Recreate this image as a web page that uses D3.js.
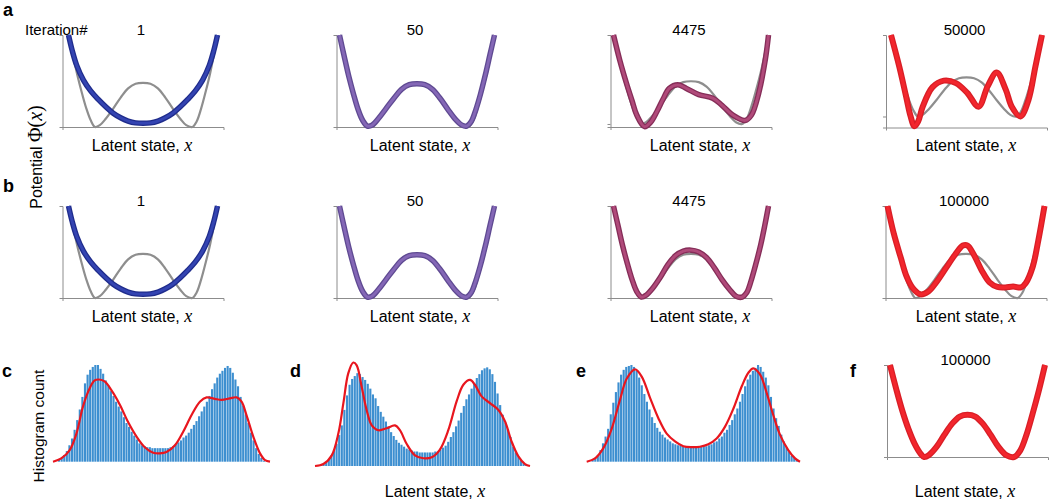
<!DOCTYPE html>
<html>
<head>
<meta charset="utf-8">
<script src="https://cdn.jsdelivr.net/npm/d3@7"></script>
<style>
  body { margin: 0; background: #fff; }
  svg { display: block; font-family: "Liberation Sans", Arial, Helvetica, sans-serif; }
</style>
</head>
<body>
<svg id="chart" width="1050" height="500"></svg>
<script>
// ---- data ----
// potentials: [latent x (0..1 across panel), potential (0 = true minimum, 1 = top of axis)]
var truePotential = [[0,1],[0.03,0.78],[0.06,0.56],[0.09,0.37],[0.12,0.2],[0.15,0.07],[0.178,0],[0.21,0.02],[0.25,0.09],[0.3,0.2],[0.35,0.32],[0.4,0.42],[0.45,0.47],[0.5,0.48],[0.55,0.47],[0.6,0.42],[0.65,0.32],[0.7,0.2],[0.75,0.09],[0.79,0.02],[0.83,0],[0.86,0.06],[0.89,0.2],[0.92,0.38],[0.95,0.58],[0.975,0.78],[1,1]]
var iter1 = [[0,1],[0.025,0.83],[0.055,0.67],[0.1,0.51],[0.15,0.39],[0.2,0.3],[0.25,0.22],[0.3,0.15],[0.35,0.1],[0.4,0.065],[0.45,0.045],[0.5,0.04],[0.55,0.045],[0.6,0.065],[0.65,0.1],[0.7,0.15],[0.75,0.22],[0.8,0.3],[0.85,0.39],[0.9,0.51],[0.945,0.67],[0.975,0.83],[1,1]]
var iter50 = [[0,1],[0.03,0.77],[0.06,0.55],[0.09,0.36],[0.12,0.19],[0.15,0.07],[0.18,0.01],[0.21,0.02],[0.25,0.09],[0.3,0.2],[0.35,0.31],[0.4,0.41],[0.45,0.46],[0.5,0.47],[0.55,0.46],[0.6,0.41],[0.65,0.31],[0.7,0.19],[0.75,0.08],[0.79,0.02],[0.82,0.01],[0.85,0.06],[0.88,0.19],[0.91,0.36],[0.94,0.56],[0.97,0.78],[1,1]]
var iter4475a = [[0,1],[0.04,0.72],[0.085,0.45],[0.12,0.26],[0.15,0.1],[0.2,-0.03],[0.24,0.02],[0.28,0.14],[0.32,0.28],[0.36,0.4],[0.415,0.44],[0.47,0.4],[0.55,0.33],[0.64,0.29],[0.7,0.21],[0.77,0.1],[0.85,0.04],[0.89,0.1],[0.936,0.34],[0.98,0.73],[1,1]]
var iter50000 = [[0,1],[0.055,0.61],[0.1,0.245],[0.13,0],[0.155,-0.12],[0.18,-0.06],[0.21,0.12],[0.275,0.36],[0.35,0.44],[0.43,0.41],[0.505,0.29],[0.58,0.12],[0.64,0.37],[0.7,0.54],[0.76,0.33],[0.8,0.12],[0.857,0],[0.91,0.2],[0.956,0.61],[1,1]]
var iter4475b = [[0,1],[0.03,0.78],[0.06,0.56],[0.09,0.37],[0.12,0.2],[0.15,0.07],[0.18,0.01],[0.21,0.03],[0.25,0.1],[0.3,0.22],[0.35,0.36],[0.4,0.46],[0.45,0.51],[0.5,0.52],[0.55,0.5],[0.6,0.44],[0.65,0.33],[0.7,0.2],[0.75,0.09],[0.79,0.02],[0.83,0.01],[0.86,0.06],[0.89,0.2],[0.92,0.38],[0.95,0.58],[0.975,0.78],[1,1]]
var iter100000 = [[0,1],[0.04,0.7],[0.086,0.43],[0.12,0.24],[0.16,0.11],[0.21,0.04],[0.26,0.07],[0.31,0.17],[0.37,0.32],[0.43,0.47],[0.48,0.57],[0.51,0.57],[0.55,0.47],[0.6,0.3],[0.65,0.17],[0.7,0.12],[0.75,0.115],[0.8,0.125],[0.85,0.115],[0.88,0.16],[0.925,0.34],[0.96,0.62],[1,1]]
var learnedF = [[0,1],[0.04,0.74],[0.08,0.5],[0.12,0.3],[0.16,0.14],[0.2,0.03],[0.22,0],[0.25,0.02],[0.3,0.11],[0.35,0.24],[0.4,0.36],[0.45,0.44],[0.5,0.46],[0.55,0.44],[0.6,0.36],[0.65,0.24],[0.7,0.11],[0.75,0.02],[0.8,0],[0.84,0.07],[0.88,0.24],[0.92,0.47],[0.96,0.72],[1,1]]

// histograms: 80 bins each, counts scaled so the tallest peak is ~100
var histC = [2,4,7,11,17,24,33,43,54,67, 81,90,95,98,100,100,96,91,84,79, 73,68,62,57,52,46,40,36,31,27, 23,19,17,16,15,15,14,14,14,14, 14,14,14,15,16,18,20,22,25,27, 30,34,38,42,47,52,57,62,68,75, 81,87,91,94,97,99,97,92,85,78, 67,58,49,40,30,22,14,8,4,1]
var histD = [1,2,4,7,11,16,23,32,42,58, 73,84,90,93,96,95,92,89,85,80, 74,70,62,56,51,46,41,35,31,27, 24,22,20,18,17,16,15,15,14,14, 14,14,14,14,15,15,17,19,21,25, 30,35,41,47,55,62,69,74,80,86, 91,95,99,101,102,100,95,87,75,63, 53,45,38,30,20,14,10,6,3,1]
var histE = [2,4,7,12,19,26,34,49,61,72, 82,90,95,98,99,100,98,94,87,79, 70,62,54,46,40,35,31,28,25,23, 21,19,18,17,17,16,16,15,15,15, 15,15,16,16,16,17,18,20,21,24, 26,30,33,38,43,49,55,62,70,78, 85,90,94,97,100,98,93,87,79,67, 55,45,37,28,21,15,10,6,4,2]
// fitted densities (red) on the same count scale
var fitC = [[0,0],[0.038,3.4],[0.077,12],[0.108,29],[0.138,57],[0.169,76],[0.192,84],[0.212,85],[0.238,83],[0.269,74],[0.308,59],[0.346,41],[0.385,26],[0.423,15],[0.462,9.3],[0.492,8.6],[0.523,10],[0.562,17],[0.6,31],[0.638,48],[0.677,62],[0.708,66.5],[0.746,65],[0.777,64],[0.815,65.5],[0.846,66.5],[0.869,62],[0.892,48],[0.923,26],[0.954,8.6],[0.977,1.7],[1,0]]
var fitD = [[0,0],[0.039,2],[0.078,11],[0.109,34],[0.132,65],[0.155,96],[0.178,107],[0.194,104],[0.217,82],[0.24,58],[0.264,42],[0.295,37],[0.333,39],[0.372,42],[0.395,37],[0.426,23],[0.465,11],[0.504,8],[0.543,9],[0.581,17],[0.62,37],[0.659,67],[0.69,84],[0.721,89],[0.744,84],[0.775,72],[0.814,65],[0.853,58],[0.884,46],[0.915,25],[0.946,10],[0.977,2],[1,0]]
var fitE = [[0,0],[0.039,3.4],[0.078,14],[0.117,34],[0.156,64],[0.188,86],[0.227,95.5],[0.258,88],[0.297,66],[0.336,45],[0.375,29],[0.414,21],[0.453,16],[0.492,15],[0.531,15.5],[0.57,18],[0.609,24],[0.648,36],[0.688,55],[0.727,78],[0.758,92],[0.781,96.5],[0.813,90],[0.844,71],[0.875,48],[0.906,28],[0.945,12],[0.977,3.4],[1,0]]

var iterations = ["1", "50", "4475", "50000", "100000"]

// ---- drawing ----
var svg = d3.select("#chart")
var serif = "'Liberation Serif', 'DejaVu Serif', serif"

var styles = {
    blue:   {outer: "#1f2c8c", inner: "#3444b2", w: 5.5},
    purple: {outer: "#5f4a92", inner: "#8467b6", w: 5.5},
    maroon: {outer: "#852d58", inner: "#b04a7a", w: 5.5},
    red:    {outer: "#d81e26", inner: "#f2262d", w: 6}
}

var potentialPanels = [
    {left: 62.5, top: 35, bottom: 127, pad: 6, lo: 0, title: iterations[0], curve: iter1, ref: truePotential, style: "blue", labelX: 142, labelY: 150.5},
    {left: 336.5, top: 35, bottom: 127, pad: 3, lo: 0, title: iterations[1], curve: iter50, ref: truePotential, style: "purple", labelX: 420, labelY: 150.5},
    {left: 610.5, top: 35, bottom: 127, pad: 3, lo: -0.034, title: iterations[2], curve: iter4475a, ref: truePotential, style: "maroon", labelX: 700, labelY: 150.5},
    {left: 886, top: 35, bottom: 127.5, pad: 5, lo: -0.135, title: iterations[3], curve: iter50000, ref: truePotential, style: "red", labelX: 966, labelY: 150.5},
    {left: 62.5, top: 206, bottom: 298, pad: 6, lo: 0, title: iterations[0], curve: iter1, ref: truePotential, style: "blue", labelX: 142, labelY: 322},
    {left: 336.5, top: 206, bottom: 298, pad: 3, lo: 0, title: iterations[1], curve: iter50, ref: truePotential, style: "purple", labelX: 420, labelY: 322},
    {left: 610.5, top: 206, bottom: 298, pad: 3, lo: 0, title: iterations[2], curve: iter4475b, ref: truePotential, style: "maroon", labelX: 700, labelY: 322},
    {left: 885.5, top: 206, bottom: 298, pad: 2, lo: 0, title: iterations[4], curve: iter100000, ref: truePotential, style: "red", labelX: 966, labelY: 322},
    {left: 887, top: 365, bottom: 457, pad: 3, lo: 0, title: iterations[4], curve: learnedF, ref: learnedF, style: "red", labelX: 965, labelY: 496.5}
]

var panelWidth = 161

function latentLabel(g, x, y) {
    var t = g.append("text")
        .attr("x", x).attr("y", y)
        .attr("text-anchor", "middle")
        .style("font-size", "16px")
        .text("Latent state, ")
    t.append("tspan")
        .style("font-family", serif)
        .style("font-style", "italic")
        .style("font-size", "18px")
        .text("x")
}

function drawPotential(p) {
    var g = svg.append("g")
    var xa = d3.scaleLinear().domain([0, 1]).range([p.left, p.left + panelWidth])
    var x = d3.scaleLinear().domain([0, 1]).range([p.left + p.pad, p.left + panelWidth - p.pad])
    var y = d3.scaleLinear().domain([p.lo, 1]).range([p.bottom, p.top])

    g.append("g")
        .attr("transform", "translate(" + p.left + ",0)")
        .call(d3.axisLeft(y).tickValues(p.lo < 0 ? [0] : []).tickSize(3).tickSizeOuter(3).tickFormat(""))
    g.append("g")
        .attr("transform", "translate(0," + p.bottom + ")")
        .call(d3.axisBottom(xa).tickValues([]).tickSizeOuter(3))
    g.selectAll(".domain, .tick line").attr("stroke", "#8c8c8c").attr("stroke-width", 1)

    var line = d3.line()
        .x(function(d) { return x(d[0]) })
        .y(function(d) { return y(d[1]) })
        .curve(d3.curveCatmullRom.alpha(0.5))

    g.append("path").datum(p.ref)
        .attr("d", line).attr("fill", "none")
        .attr("stroke", "#8e8e8e").attr("stroke-width", 2.2)

    var s = styles[p.style]
    g.append("path").datum(p.curve)
        .attr("d", line).attr("fill", "none")
        .attr("stroke", s.outer).attr("stroke-width", s.w)
    g.append("path").datum(p.curve)
        .attr("d", line).attr("fill", "none")
        .attr("stroke", s.inner).attr("stroke-width", s.w - 2.6)

    g.append("text")
        .attr("x", p.left + panelWidth / 2 - 2).attr("y", p.top - 0.5)
        .attr("text-anchor", "middle")
        .style("font-size", "15px")
        .text(p.title)

    latentLabel(g, p.labelX, p.labelY)
}

potentialPanels.forEach(drawPotential)

var histPanels = [
    {x0: 53, x1: 270, base: 461.7, counts: histC, fit: fitC, b0: 0.023, b1: 0.977},
    {x0: 315, x1: 530, base: 466, counts: histD, fit: fitD, b0: 0.023, b1: 0.987},
    {x0: 586.7, x1: 800, base: 461.7, counts: histE, fit: fitE, b0: 0.023, b1: 0.99}
]

function drawHist(h) {
    var g = svg.append("g")
    var x = d3.scaleLinear().domain([0, 1]).range([h.x0, h.x1])
    var y = d3.scaleLinear().domain([0, 100]).range([h.base, h.base - 96.7])
    var band = d3.scaleBand()
        .domain(d3.range(h.counts.length))
        .range([x(h.b0), x(h.b1)])
        .paddingInner(0.18)

    g.selectAll("rect").data(h.counts).enter().append("rect")
        .attr("x", function(d, i) { return band(i) })
        .attr("width", band.bandwidth())
        .attr("y", function(d) { return y(d) })
        .attr("height", function(d) { return y(0) - y(d) })
        .attr("fill", "#3d8fd0")

    var line = d3.line()
        .x(function(d) { return x(d[0]) })
        .y(function(d) { return y(d[1]) })
        .curve(d3.curveCatmullRom.alpha(0.5))
    g.append("path").datum(h.fit)
        .attr("d", line).attr("fill", "none")
        .attr("stroke", "#e8161e").attr("stroke-width", 2.2)
}

histPanels.forEach(drawHist)
latentLabel(svg, 435, 496.5)

// panel letters
var letters = [["a", 3, 16], ["b", 3, 192], ["c", 2, 377], ["d", 290, 377], ["e", 576, 377], ["f", 850, 377]]
svg.selectAll(".letter").data(letters).enter().append("text")
    .attr("class", "letter")
    .attr("x", function(d) { return d[1] })
    .attr("y", function(d) { return d[2] })
    .style("font-size", "18px").style("font-weight", "bold")
    .text(function(d) { return d[0] })

svg.append("text")
    .attr("x", 25).attr("y", 34.5)
    .style("font-size", "15px")
    .text("Iteration#")

// rotated y labels
var pot = svg.append("text")
    .attr("transform", "translate(41.5,157) rotate(-90)")
    .attr("text-anchor", "middle")
    .style("font-size", "16px")
    .text("Potential  ")
pot.append("tspan").style("font-family", serif).style("font-size", "20px").text("\u03A6(")
pot.append("tspan").style("font-family", serif).style("font-style", "italic").style("font-size", "20px").text("x")
pot.append("tspan").style("font-family", serif).style("font-size", "20px").text(")")

svg.append("text")
    .attr("transform", "translate(44,426) rotate(-90)")
    .attr("text-anchor", "middle")
    .style("font-size", "15.5px")
    .text("Histogram count")
</script>
</body>
</html>
